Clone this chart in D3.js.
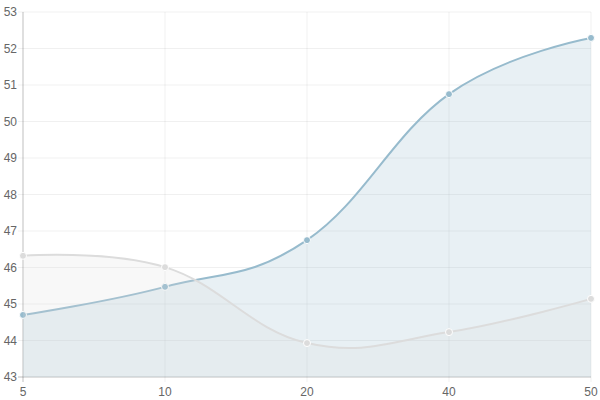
<!DOCTYPE html>
<html>
<head>
<meta charset="utf-8">
<script src="https://cdn.jsdelivr.net/npm/d3@7"></script>
<style>
  body { margin: 0; background: #fff; }
  text { font-family: "Liberation Sans", Arial, sans-serif; font-size: 12px; fill: #666; }
</style>
</head>
<body>
<div id="node"></div>
<script>
// chart values
const categories = ["5", "10", "20", "40", "50"];
const seriesBlue = [44.7, 45.47, 46.75, 50.75, 52.29];
const seriesGray = [46.32, 46.01, 43.93, 44.23, 45.14];
const yTicks = [43, 44, 45, 46, 47, 48, 49, 50, 51, 52, 53];

const width = 600, height = 400;
const margin = { top: 12, right: 9, bottom: 23, left: 23 };
const innerW = width - margin.left - margin.right;
const innerH = height - margin.top - margin.bottom;

const svg = d3.select("#node").append("svg")
    .attr("width", width)
    .attr("height", height);
const g = svg.append("g")
    .attr("transform", "translate(" + margin.left + "," + margin.top + ")");

const x = d3.scalePoint().domain(categories).range([0, innerW]);
const y = d3.scaleLinear().domain([43, 53]).range([innerH, 0]);

// grid
g.append("g").selectAll("line").data(yTicks).enter().append("line")
    .attr("x1", -5).attr("x2", innerW)
    .attr("y1", d => y(d)).attr("y2", d => y(d))
    .attr("stroke", d => d === 43 ? "rgba(0,0,0,0.25)" : "rgba(0,0,0,0.06)");
g.append("g").selectAll("line").data(categories).enter().append("line")
    .attr("x1", d => x(d)).attr("x2", d => x(d))
    .attr("y1", 0).attr("y2", innerH + 5)
    .attr("stroke", (d, i) => i === 0 ? "rgba(0,0,0,0.25)" : "rgba(0,0,0,0.06)");

// tick labels
g.append("g").selectAll("text").data(yTicks).enter().append("text")
    .attr("x", -6).attr("y", d => y(d)).attr("dy", "0.35em")
    .attr("text-anchor", "end").text(d => d);
g.append("g").selectAll("text").data(categories).enter().append("text")
    .attr("x", d => x(d)).attr("y", innerH + 19)
    .attr("text-anchor", "middle").text(d => d);

const curve = d3.curveCardinal.tension(-0.2);

function drawSeries(values, stroke, fill) {
    const pts = values.map((v, i) => [x(categories[i]), y(v)]);
    g.append("path")
        .attr("d", d3.area().x(d => d[0]).y0(innerH).y1(d => d[1]).curve(curve)(pts))
        .attr("fill", fill);
    g.append("path")
        .attr("d", d3.line().x(d => d[0]).y(d => d[1]).curve(curve)(pts))
        .attr("fill", "none").attr("stroke", stroke).attr("stroke-width", 2);
    g.append("g").selectAll("circle").data(pts).enter().append("circle")
        .attr("cx", d => d[0]).attr("cy", d => d[1]).attr("r", 3.5)
        .attr("fill", stroke).attr("stroke", "#fff").attr("stroke-width", 1);
}

drawSeries(seriesBlue, "rgb(151,187,205)", "rgba(151,187,205,0.22)");
drawSeries(seriesGray, "rgb(220,220,220)", "rgba(220,220,220,0.2)");
</script>
</body>
</html>
